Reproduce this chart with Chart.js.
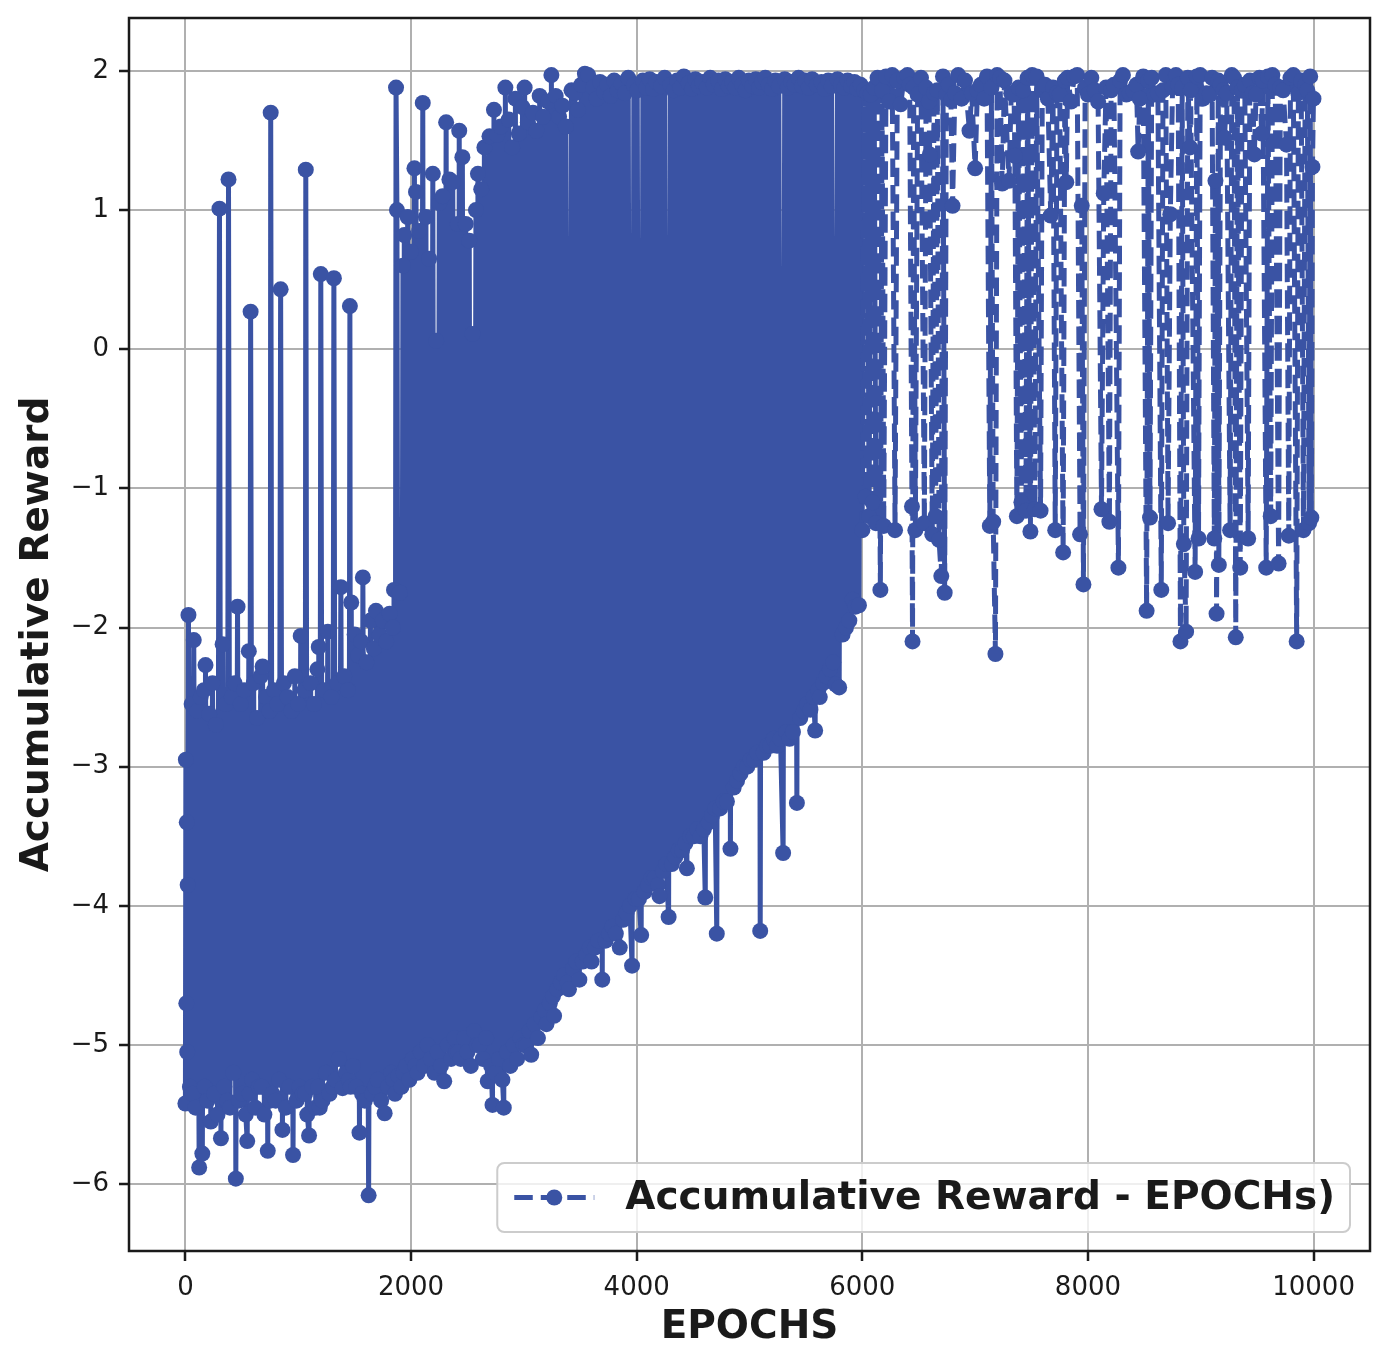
<!DOCTYPE html>
<html>
<head>
<meta charset="utf-8">
<title>Accumulative Reward - EPOCHs</title>
<script src="https://cdn.jsdelivr.net/npm/chart.js@4.4.1/dist/chart.umd.min.js"></script>
<style>
  html, body { margin: 0; padding: 0; background: #ffffff; }
  .reward-graph { position: relative; width: 1390px; height: 1368px; }
</style>
</head>
<body>
<div class="reward-graph"><canvas id="rewardChart"></canvas></div>
<script>

// readings, split by phase of training (epoch -> accumulative reward)
const epochsWarmup = [0,4,8,12,16,20,27,40,55,64,74,90,105,122,135,150,165,171,178,195,210,225,240,255,270,285,
    302,315,330,345,360,371,382,395,410,425,436,447,462,475,490,505,520,535,548,562,570,578,592,605,620,635,650,
    668,676,684,700,715,730,745,751,756,770,785,800,815,830,844,860,873,890,905,920,940,954,970,985,1000,1011,
    1022,1040,1055,1061,1067,1080,1096,1110,1125,1140,1155,1170,1176,1182,1191,1200,1215,1230,1245,1262,1278,
    1295,1305,1316,1330,1345,1360,1378,1393,1408,1422,1440,1449,1458,1464,1470,1485];
const rewardWarmup = [-5.42,-2.95,-4.70,-3.40,-5.05,-3.85,-1.91,-5.30,-2.55,-5.35,-2.09,-5.45,-2.60,-5.88,-2.50,
    -5.78,-2.45,-5.30,-2.27,-5.40,-2.62,-5.55,-2.40,-5.35,-2.70,-5.50,1.01,-5.67,-2.12,-5.30,-2.55,-5.40,1.22,
    -5.45,-2.50,-5.20,-2.40,-5.96,-1.85,-5.40,-2.55,-5.35,-2.45,-5.50,-5.69,-2.17,-5.35,0.27,-5.25,-2.40,-5.45,
    -2.65,-5.30,-2.35,-5.30,-2.28,-5.50,-2.50,-5.76,-2.60,-5.40,1.70,-5.35,-2.45,-5.40,-2.55,-5.25,0.43,-5.61,
    -2.40,-5.45,-2.50,-5.30,-2.60,-5.79,-2.35,-5.40,-2.55,-5.30,-2.06,-5.35,-2.45,-5.35,1.29,-5.50,-5.65,-2.40,
    -5.30,-2.55,-5.45,-2.30,-5.30,-2.14,-5.45,0.54,-5.40,-2.45,-5.20,-2.03,-5.35,-2.50,-5.30,0.51,-5.25,-2.40,
    -5.10,-1.71,-5.31,-2.35,-5.20,-2.45,-5.25,0.31,-5.30,-1.82,-5.15];

const epochsRise = [1500,1515,1530,1543,1558,1566,1573,1590,1605,1624,1640,1655,1670,1680,1689,1705,1720,1735,
    1750,1766,1780,1795,1810,1825,1838,1844,1849,1858,1867,1875,1888,1900,1915,1928,1934,1940,1955,1970,1985,
    2000,2015,2030,2037,2044,2058,2072,2086,2104,2118,2132,2146,2160,2175,2193,2208,2222,2236,2250,2265,2280,
    2294,2311,2325,2340,2355,2370,2385,2400,2414,2420,2427,2440,2455,2470,2485,2500,2516,2530,2545,2560,2575,
    2584,2593,2608,2622,2636,2650,2665,2680,2695];
const rewardRise = [-2.05,-5.30,-2.20,-5.63,-2.10,-5.35,-1.64,-5.40,-2.25,-6.08,-1.95,-5.35,-2.15,-5.30,-1.88,
    -5.25,-2.05,-5.40,-1.95,-5.49,-2.10,-5.30,-1.90,-5.20,-2.00,-5.25,-1.73,-5.35,1.88,1.00,-5.22,-1.75,-5.30,
    0.60,-5.20,0.82,-5.15,0.95,-5.25,0.70,-5.10,1.30,-5.15,1.13,-5.20,0.85,-5.05,1.77,-5.15,0.95,-5.00,0.65,
    -5.10,1.26,-5.20,0.06,-5.05,1.05,-5.15,1.10,-5.26,1.63,-5.00,1.22,-5.10,1.20,-4.95,-5.05,0.90,-5.05,1.57,
    -5.10,1.38,-4.95,0.90,-5.05,0.78,-5.15,0.11,-4.90,1.00,-5.00,1.26,-5.00,1.15,-5.10,1.45,-4.95,-5.26,1.53];

const epochsClimb = [2710,2722,2735,2750,2765,2780,2795,2810,2822,2836,2850,2866,2880,2896,2910,2925,2940,2955,
    2970,2988,2997,3007,3020,3035,3050,3065,3080,3095,3110,3125,3140,3155,3170,3185,3200,3215,3230,3244,3258,
    3268,3282,3297,3312,3327,3342,3357,3372,3387,3400,3422,3436,3452,3466,3480,3492,3508,3522,3541,3555,3570,
    3585,3600,3615,3630,3645,3660,3675,3695,3710,3725,3740,3755,3770,3785,3800,3815,3830,3850,3865,3880,3895,
    3910,3925,3940,3959,3975,3990,4005,4020,4040,4055,4070,4085,4100,4115,4130,4145,4160,4175,4190,4202,4218,
    4232,4248,4262,4283,4298,4312,4328,4342,4358,4372,4388,4402,4418,4432,4445,4460,4475,4490,4505,4520,4535,
    4550,4565,4580,4595,4608,4622,4638,4652,4668,4682,4696,4710,4725,4740,4755,4770,4785,4800,4815,4831,4846,
    4860,4875,4890,4905,4920,4935,4950,4965,4980,4995,5010,5025,5040,5055,5070,5085,5095,5110,5125,5140,5155,
    5170,5185,5200,5215,5230,5245,5260,5275,5298,5312,5326,5340,5355,5370,5385,5400,5420,5435,5450,5465,5480,
    5495,5510,5525,5540,5555,5568,5582,5596,5610,5623,5638,5652,5668,5682,5698,5712,5728,5742,5765,5780,5795,
    5810,5825,5840,5855,5870,5885,5900,5915,5930,5940,5955,5970,5985];
const rewardClimb = [-5.15,-5.43,1.72,-5.20,1.54,-5.10,1.60,-5.25,-5.45,1.88,-5.05,1.65,-5.15,1.45,-5.00,1.80,
    -5.10,1.55,-4.95,1.74,-5.00,1.88,-5.00,1.63,-4.90,-5.07,1.70,-4.85,1.57,-4.95,1.82,-4.80,1.67,-4.75,-4.85,1.78,
    -4.70,1.97,-4.65,-4.79,1.82,-4.60,1.67,-4.55,1.75,-4.50,1.60,-4.55,-4.60,1.86,-4.45,1.84,-4.40,1.72,-4.53,
    1.90,-4.40,1.98,-4.35,1.97,-4.30,-4.40,1.88,-4.30,1.80,-4.25,1.92,-4.53,1.85,-4.25,1.90,-4.20,1.82,-4.15,
    1.93,-4.20,1.86,-4.30,1.91,-4.10,1.84,-4.05,1.95,-4.00,-4.43,1.90,-3.95,1.86,-3.95,-4.21,1.93,-3.90,1.88,
    -3.85,1.94,-3.80,1.87,-3.80,1.92,-3.85,-3.93,1.89,-3.75,1.95,-3.70,-4.08,1.90,-3.70,1.86,-3.65,1.93,-3.60,
    1.88,-3.60,1.96,-3.55,-3.73,1.91,-3.50,1.87,-3.50,1.94,-3.45,1.89,-3.50,1.92,-3.45,-3.94,1.88,-3.40,1.95,
    -3.35,1.90,-3.30,-4.20,1.93,-3.30,1.87,-3.25,1.94,-3.25,1.89,-3.59,1.92,-3.15,1.88,-3.10,1.95,-3.05,1.90,
    -3.00,1.86,-3.00,1.93,-2.95,1.89,-2.95,1.94,-2.90,1.88,-4.18,1.92,-2.90,1.95,-2.85,1.90,-2.85,1.87,-2.80,
    1.93,-2.85,1.89,-2.80,-3.62,1.94,-2.75,1.88,-2.80,1.92,-2.75,1.90,-3.26,1.95,-2.65,1.89,-2.60,1.93,-2.55,
    1.88,-2.59,1.94,-2.50,-2.74,1.90,-2.45,-2.50,1.92,-2.40,1.87,-2.35,1.93,-2.30,1.89,-2.25,-2.41,1.94,-2.43,
    1.90,-2.05,1.88,-2.00,1.93,-1.95,1.89,-1.80,1.92,-1.85,1.87,-1.84,1.90];

const epochsPlateau = [6000,6015,6030,6045,6060,6075,6090,6105,6120,6135,6160,6175,6190,6210,6240,6265,6290,6310,
    6340,6370,6400,6420,6440,6445,6455,6470,6490,6520,6550,6565,6590,6598,6620,6635,6650,6665,6680,6700,6715,
    6730,6745,6765,6785,6800,6820,6850,6880,6910,6950,6970,7000,7020,7050,7080,7105,7130,7145,7160,7180,7195,
    7220,7240,7260,7300,7320,7345,7352,7370,7385,7410,7425,7450,7465,7490,7505,7530,7545,7580,7595,7620,7645,
    7670,7690,7710,7725,7750,7780,7795,7808,7820,7850,7880,7905,7930,7945,7960,7975,8000,8030,8060,8090,8120,
    8140,8160,8190,8205,8230,8270,8285,8310,8340,8370,8400,8430,8445,8460,8490,8520,8535,8550,8565,8590,8620,
    8650,8665,8690,8710,8730,8750,8780,8800,8820,8835,8850,8870,8885,8905,8910,8950,8965,8980,8995,9020,9050,
    9080,9100,9120,9130,9140,9155,9160,9175,9200,9210,9230,9260,9275,9295,9310,9325,9350,9365,9390,9420,9435,
    9460,9475,9490,9520,9540,9550,9580,9595,9620,9635,9660,9690,9705,9730,9760,9780,9795,9820,9850,9865,9890,
    9910,9925,9945,9960,9970,9980,9990,9999];
const rewardPlateau = [-1.30,1.86,-1.06,1.84,-1.20,1.83,-1.10,1.88,-1.25,1.95,-1.73,1.86,-1.27,1.96,1.78,1.97,
    -1.30,1.93,1.76,1.95,1.97,1.90,-1.13,-2.10,1.88,-1.30,1.83,1.95,-1.25,1.88,1.78,1.40,-1.33,1.84,-1.20,1.86,
    -1.37,-1.63,1.96,-1.75,1.83,1.90,1.79,1.03,1.84,1.97,1.80,1.93,1.57,1.84,1.30,1.86,1.90,1.80,1.96,-1.27,1.88,
    -1.24,-2.19,1.97,1.95,1.19,1.93,1.21,1.84,1.83,1.39,-1.20,1.88,-1.10,1.86,-1.16,1.95,-1.31,1.97,-1.15,1.96,
    -1.16,1.86,1.90,1.80,0.96,1.88,-1.30,1.84,1.83,-1.46,1.93,1.20,1.95,1.78,1.96,1.97,-1.33,1.03,-1.69,1.88,
    1.83,1.95,1.86,1.78,-1.15,1.12,1.88,-1.24,1.86,1.90,-1.57,1.93,1.97,1.83,1.84,1.86,1.90,1.42,1.80,1.96,-1.88,
    1.93,-1.21,1.95,1.83,1.84,-1.73,1.86,1.97,-1.25,0.97,1.88,1.97,1.90,-2.10,1.88,-1.40,-2.03,1.95,1.45,1.86,
    -1.60,1.96,-1.36,1.97,1.80,1.84,1.83,1.95,-1.36,1.21,-1.90,1.93,-1.55,1.90,1.86,1.52,1.84,-1.30,1.97,1.95,
    -2.07,1.88,-1.57,1.86,1.90,-1.36,1.93,1.84,1.40,1.83,1.95,1.55,1.93,-1.57,1.96,-1.20,1.97,1.90,-1.54,1.88,
    1.86,1.47,-1.34,1.95,1.97,-2.10,1.84,1.93,-1.30,1.90,1.86,-1.25,1.96,-1.21,1.31,1.80];

const xTicks = [0, 2000, 4000, 6000, 8000, 10000];
const yTicks = [-6, -5, -4, -3, -2, -1, 0, 1, 2];

const seriesLabel = 'Accumulative Reward - EPOCHs)';
const xTitle = 'EPOCHS';
const yTitle = 'Accumulative Reward';

const lineColor = '#3a53a4';
const inkColor = '#1a1a1a';
const fontFamily = '"DejaVu Sans", "Liberation Sans", sans-serif';
const dashPattern = [18.5, 8];

function toPoints(epochs, rewards){
    let points = [];
    let n = Math.min(epochs.length, rewards.length);
    for (let i = 0; i < n; i++) {
        points.push({x: epochs[i], y: rewards[i]});
    }
    return points;
}

let rewardPoints = [].concat(
    toPoints(epochsWarmup, rewardWarmup),
    toPoints(epochsRise, rewardRise),
    toPoints(epochsClimb, rewardClimb),
    toPoints(epochsPlateau, rewardPlateau)
);

// before the plateau thousands of dashed strokes overlap into one solid mass,
// with this few readings that only looks right drawn solid
const plateauStart = epochsPlateau[0];

function minusSign(v){
    return v < 0 ? '\u2212' + Math.abs(v) : String(v);
}

// full box round the plot and the legend in the lower right corner
const frameAndLegend = {
    id: 'frameAndLegend',
    afterDraw(chart){
        let ctx = chart.ctx;
        let area = chart.chartArea;
        ctx.save();

        ctx.strokeStyle = inkColor;
        ctx.lineWidth = 2.5;
        ctx.setLineDash([]);
        ctx.strokeRect(area.left, area.top, area.right - area.left, area.bottom - area.top);

        ctx.font = 'bold 39px ' + fontFamily;
        let textWidth = ctx.measureText(seriesLabel).width;
        let boxW = 17 + 80 + 31 + textWidth + 15;
        let boxH = 69;
        let boxR = area.right - 20;
        let boxB = area.bottom - 19;
        let boxL = boxR - boxW;
        let boxT = boxB - boxH;
        let r = 7;

        ctx.beginPath();
        ctx.moveTo(boxL + r, boxT);
        ctx.arcTo(boxR, boxT, boxR, boxB, r);
        ctx.arcTo(boxR, boxB, boxL, boxB, r);
        ctx.arcTo(boxL, boxB, boxL, boxT, r);
        ctx.arcTo(boxL, boxT, boxR, boxT, r);
        ctx.closePath();
        ctx.fillStyle = 'rgba(255,255,255,0.8)';
        ctx.fill();
        ctx.strokeStyle = '#cccccc';
        ctx.lineWidth = 2;
        ctx.stroke();

        let midY = boxT + boxH / 2;
        let handleL = boxL + 17;
        let handleR = handleL + 80;

        ctx.strokeStyle = lineColor;
        ctx.lineWidth = 5;
        ctx.setLineDash(dashPattern);
        ctx.beginPath();
        ctx.moveTo(handleL, midY);
        ctx.lineTo(handleR, midY);
        ctx.stroke();
        ctx.setLineDash([]);

        ctx.fillStyle = lineColor;
        ctx.beginPath();
        ctx.arc((handleL + handleR) / 2, midY, 8, 0, Math.PI * 2);
        ctx.fill();

        ctx.fillStyle = inkColor;
        ctx.textAlign = 'left';
        ctx.textBaseline = 'middle';
        ctx.fillText(seriesLabel, handleR + 31, midY + 1);

        ctx.restore();
    }
};

function createRewardGraph(){
    let canvas = document.getElementById('rewardChart');

    let rewardChart = new Chart(canvas, {
        type: 'line',
        data: {
            datasets: [{
                label: seriesLabel,
                data: rewardPoints,
                borderColor: lineColor,
                backgroundColor: lineColor,
                borderWidth: 5,
                borderDash: dashPattern,
                borderJoinStyle: 'round',
                borderCapStyle: 'butt',
                tension: 0,
                fill: false,
                pointRadius: 8,
                pointBorderWidth: 0,
                pointBackgroundColor: lineColor,
                pointHoverRadius: 8,
                segment: {
                    borderDash: ctx => (ctx.p0.parsed.x < plateauStart ? [] : undefined)
                }
            }]
        },
        options: {
            responsive: true,
            maintainAspectRatio: false,
            devicePixelRatio: 1,
            animation: false,
            events: [],
            layout: { padding: { top: 18, right: 20, left: 0, bottom: 0 } },
            plugins: {
                legend: { display: false },
                title: { display: false },
                tooltip: { enabled: false }
            },
            scales: {
                x: {
                    type: 'linear',
                    min: -500,
                    max: 10500,
                    afterBuildTicks: scale => { scale.ticks = xTicks.map(v => ({value: v})); },
                    afterFit: scale => {
                        scale.height = 117;
                        scale.paddingLeft = 0;
                        scale.paddingRight = 0;
                    },
                    grid: {
                        color: '#b0b0b0',
                        lineWidth: 2,
                        tickColor: inkColor,
                        tickWidth: 2.5,
                        tickLength: 10
                    },
                    border: { display: false },
                    ticks: {
                        color: inkColor,
                        font: { family: fontFamily, size: 26 },
                        padding: 12,
                        maxRotation: 0,
                        autoSkip: false,
                        callback: v => minusSign(v)
                    },
                    title: {
                        display: true,
                        text: xTitle,
                        color: inkColor,
                        font: { family: fontFamily, size: 39, weight: 'bold' },
                        padding: { top: 0, bottom: 17 }
                    }
                },
                y: {
                    type: 'linear',
                    min: -6.48,
                    max: 2.38,
                    afterBuildTicks: scale => { scale.ticks = yTicks.map(v => ({value: v})); },
                    afterFit: scale => {
                        scale.width = 129;
                        scale.paddingTop = 0;
                        scale.paddingBottom = 0;
                    },
                    grid: {
                        color: '#b0b0b0',
                        lineWidth: 2,
                        tickColor: inkColor,
                        tickWidth: 2.5,
                        tickLength: 10
                    },
                    border: { display: false },
                    ticks: {
                        color: inkColor,
                        font: { family: fontFamily, size: 26 },
                        padding: 10,
                        autoSkip: false,
                        callback: v => minusSign(v)
                    },
                    title: {
                        display: true,
                        text: yTitle,
                        color: inkColor,
                        font: { family: fontFamily, size: 39, weight: 'bold' },
                        padding: { top: 14, bottom: 0 }
                    }
                }
            }
        },
        plugins: [frameAndLegend]
    });
}

createRewardGraph();

</script>
</body>
</html>
